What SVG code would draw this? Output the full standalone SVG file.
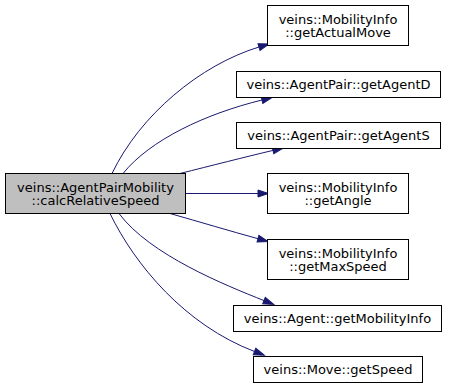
<svg xmlns="http://www.w3.org/2000/svg" width="449" height="387" viewBox="0 0 449 387">
  <style>
    .node rect { fill: #ffffff; stroke: #000000; stroke-width: 1; }
    .node.main rect { fill: #bfbfbf; }
    .node text { font-family: "DejaVu Sans", "Liberation Sans", sans-serif; font-size: 13px; fill: #000000; text-anchor: middle; }
    .edge { fill: none; stroke: #191970; stroke-width: 1; marker-end: url(#head); }
  </style>
  <defs>
    <marker id="head" markerUnits="userSpaceOnUse" markerWidth="11" markerHeight="8" refX="0" refY="4" orient="auto" overflow="visible">
      <path d="M0,0.5 L10.5,4 L0,7.5 Z" fill="#191970" stroke="#191970" stroke-width="1"/>
    </marker>
  </defs>

  <g id="edges">
    <path class="edge" d="M112,173.5 C140,115 200,65 259,47"/>
    <path class="edge" d="M123,173.5 C150,140 205,114 262,100"/>
    <path class="edge" d="M180,173.5 C210,166 245,157 273,150.4"/>
    <path class="edge" d="M185,193.5 L258,193.5"/>
    <path class="edge" d="M170,213.5 C200,222 230,231 258,238.7"/>
    <path class="edge" d="M119,213.5 C150,255 225,285 264,300.6"/>
    <path class="edge" d="M110,213.5 C135,265 185,325 254.5,351.5"/>
  </g>

  <g id="node-calcRelativeSpeed" class="node main">
    <rect x="5.5" y="173.5" width="180" height="40"/>
    <text x="95.5" y="191.5">veins::AgentPairMobility</text>
    <text x="95.5" y="205">::calcRelativeSpeed</text>
  </g>

  <g id="node-getActualMove" class="node">
    <rect x="267.5" y="5.5" width="141" height="40"/>
    <text x="338" y="23.5">veins::MobilityInfo</text>
    <text x="338" y="37">::getActualMove</text>
  </g>

  <g id="node-getAgentD" class="node">
    <rect x="236.5" y="71.5" width="204" height="26"/>
    <text x="338.5" y="89">veins::AgentPair::getAgentD</text>
  </g>

  <g id="node-getAgentS" class="node">
    <rect x="236.5" y="122.5" width="204" height="26"/>
    <text x="338.5" y="140">veins::AgentPair::getAgentS</text>
  </g>

  <g id="node-getAngle" class="node">
    <rect x="267.5" y="173.5" width="141" height="40"/>
    <text x="338" y="191.5">veins::MobilityInfo</text>
    <text x="338" y="205">::getAngle</text>
  </g>

  <g id="node-getMaxSpeed" class="node">
    <rect x="267.5" y="239.5" width="141" height="40"/>
    <text x="338" y="257.5">veins::MobilityInfo</text>
    <text x="338" y="271">::getMaxSpeed</text>
  </g>

  <g id="node-getMobilityInfo" class="node">
    <rect x="233.5" y="305.5" width="208" height="26"/>
    <text x="337.5" y="323">veins::Agent::getMobilityInfo</text>
  </g>

  <g id="node-getSpeed" class="node">
    <rect x="253.5" y="356.5" width="169" height="26"/>
    <text x="338" y="374">veins::Move::getSpeed</text>
  </g>
</svg>
